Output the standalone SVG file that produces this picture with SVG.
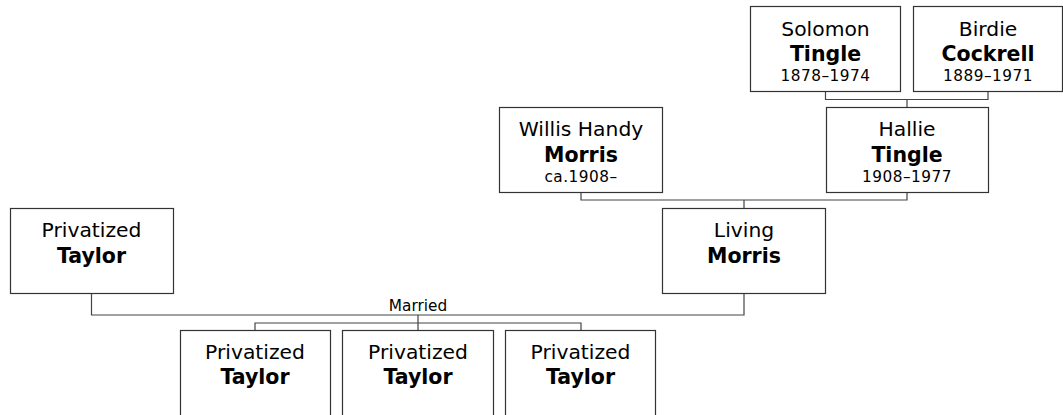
<svg xmlns="http://www.w3.org/2000/svg" width="1063" height="415" viewBox="0 0 1063 415">
<style>
.box{fill:#fff;stroke:#333;stroke-width:1.2}
.c{fill:none;stroke:#444;stroke-width:1.2}
text{font-family:"DejaVu Sans",Verdana,sans-serif;fill:#000;text-anchor:middle}
.n{font-size:20.3px}
.s{font-size:20.5px;font-weight:bold}
.d{font-size:15.3px;letter-spacing:0.5px}
.m{font-size:15.3px}
</style>
<rect width="1063" height="415" fill="#fff"/>
<g id="connectors">
<path class="c" d="M825.5,92V99.5H988V92M907,99.5V107"/>
<path class="c" d="M581,193V200H907V193M744,200V208"/>
<path class="c" d="M91.5,294V315H744V294M418,315V323"/>
<path class="c" d="M255,330V323H581V330M418,323V330"/>
<text class="m" x="418" y="311">Married</text>
</g>
<g id="solomon"><rect class="box" x="750.5" y="6.5" width="150" height="85"/>
<text class="n" x="825.5" y="36">Solomon</text><text class="s" x="825.5" y="61">Tingle</text><text class="d" x="825.5" y="81">1878–1974</text></g>
<g id="birdie"><rect class="box" x="913.5" y="6.5" width="149" height="85"/>
<text class="n" x="988" y="36">Birdie</text><text class="s" x="988" y="61">Cockrell</text><text class="d" x="988" y="81">1889–1971</text></g>
<g id="willis"><rect class="box" x="499.5" y="107.5" width="163" height="85"/>
<text class="n" x="581" y="136">Willis Handy</text><text class="s" x="581" y="162">Morris</text><text class="d" x="581" y="182">ca.1908–</text></g>
<g id="hallie"><rect class="box" x="826.5" y="107.5" width="162" height="85"/>
<text class="n" x="907" y="136">Hallie</text><text class="s" x="907" y="162">Tingle</text><text class="d" x="907" y="182">1908–1977</text></g>
<g id="living"><rect class="box" x="662.5" y="208.5" width="163" height="85"/>
<text class="n" x="744" y="237">Living</text><text class="s" x="744" y="263">Morris</text></g>
<g id="taylor"><rect class="box" x="10.5" y="208.5" width="163" height="85"/>
<text class="n" x="91.5" y="237">Privatized</text><text class="s" x="91.5" y="263">Taylor</text></g>
<g id="child1"><rect class="box" x="180.5" y="330.5" width="150" height="100"/>
<text class="n" x="255" y="358.5">Privatized</text><text class="s" x="255" y="383.5">Taylor</text></g>
<g id="child2"><rect class="box" x="342.5" y="330.5" width="151" height="100"/>
<text class="n" x="418" y="358.5">Privatized</text><text class="s" x="418" y="383.5">Taylor</text></g>
<g id="child3"><rect class="box" x="505.5" y="330.5" width="150" height="100"/>
<text class="n" x="580.5" y="358.5">Privatized</text><text class="s" x="580.5" y="383.5">Taylor</text></g>
</svg>
